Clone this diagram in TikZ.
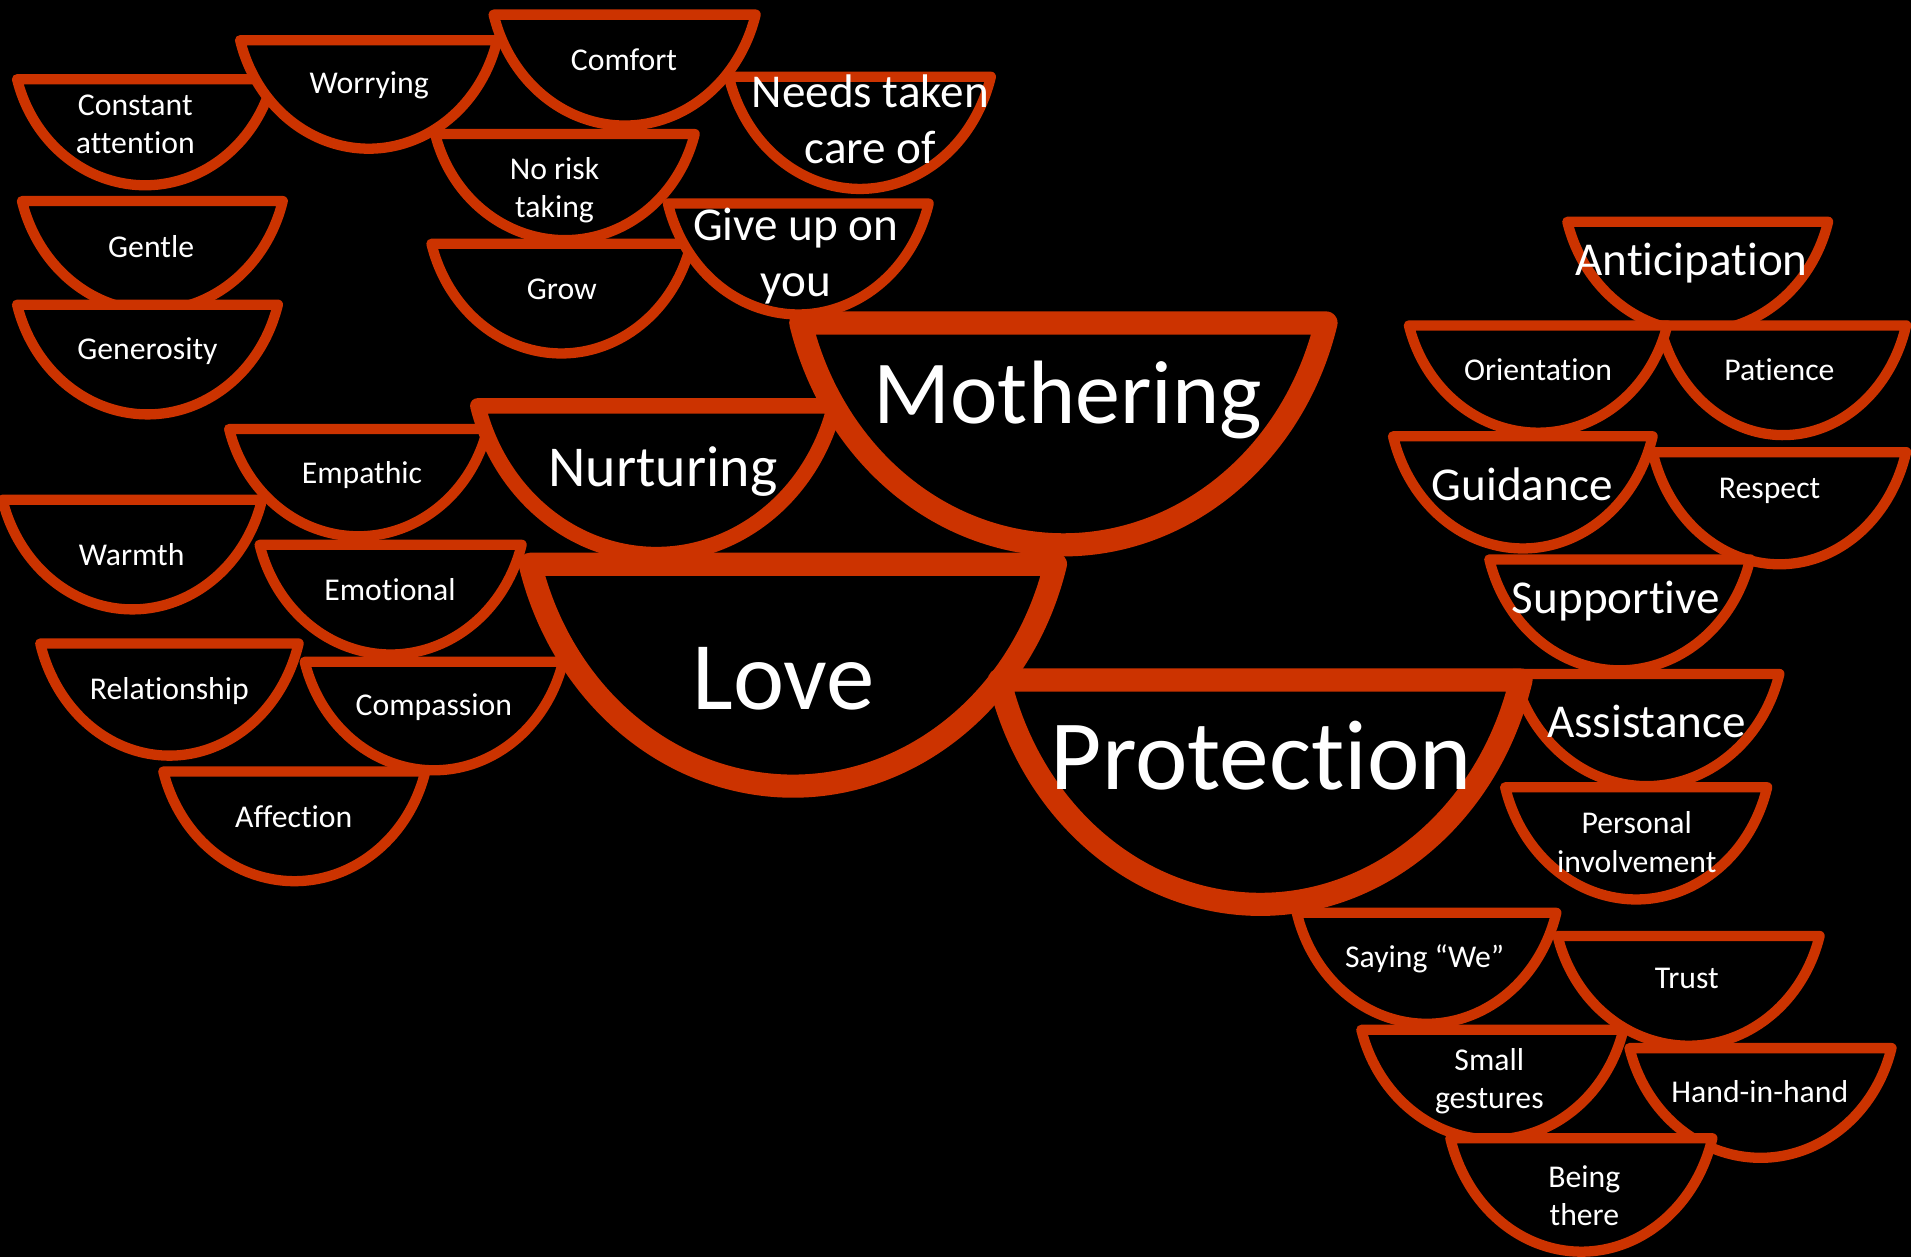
\documentclass[tikz,border=0pt]{standalone}
\usepackage{fontspec}
\setmainfont{Carlito}[Ligatures=NoCommon]
\definecolor{bowlred}{HTML}{CC3300}

% a bowl: left x, right x, top y, bottom y, line width
\newcommand{\bowl}[5]{%
  \pgfmathsetmacro{\bxr}{(#2-#1)/2/cos(15)}%
  \pgfmathsetmacro{\byr}{(#4-#3)/(1-sin(15))}%
  \draw[bowl, line width=#5] (#1,#3) -- (#2,#3)
    arc[start angle=15, end angle=165, x radius=\bxr, y radius=\byr] -- cycle;
}

\tikzset{
  bowl/.style={draw=bowlred, fill=black, line join=round},
  lbl/.style={text=white, align=center, inner sep=0pt},
  smalltxt/.style={lbl, font=\fontsize{7.4}{8.9}\selectfont},
  midtxt/.style={lbl, font=\fontsize{11}{13.2}\selectfont}
}

\begin{document}
\begin{tikzpicture}[x=0.01cm, y=-0.01cm]
    % Background
    \fill[black] (0,0) rectangle (1568,1031);
    \useasboundingbox (0,0) rectangle (1568,1031);
    % Upper left bowls
    \bowl{14}{224}{65}{152}{2.4pt}
    \bowl{197}{408}{33}{122}{2.4pt}
    \bowl{405}{620}{12}{103}{2.4pt}
    \bowl{598}{813}{63}{155}{2.4pt}
    \bowl{357}{570}{110}{197}{2.4pt}
    \bowl{354}{567}{200}{290}{2.4pt}
    \bowl{548}{762}{167}{258}{2.4pt}
    \bowl{18}{232}{165}{255}{2.4pt}
    \bowl{14}{228}{250}{340}{2.4pt}
    % Left bowls
    \bowl{188}{400}{352}{440}{2.4pt}
    \bowl{2}{215}{410}{500}{2.4pt}
    \bowl{213}{428}{447}{537}{2.4pt}
    \bowl{33}{245}{528}{620}{2.4pt}
    \bowl{250}{462}{543}{632}{2.4pt}
    \bowl{134}{349}{633}{723}{2.4pt}
    % Right bowls
    \bowl{1286}{1500}{182}{272}{2.4pt}
    \bowl{1362}{1564}{267}{357}{2.4pt}
    \bowl{1156}{1368}{267}{355}{2.4pt}
    \bowl{1356}{1564}{371}{463}{2.4pt}
    \bowl{1143}{1356}{358}{450}{2.4pt}
    \bowl{1222}{1436}{459}{550}{2.4pt}
    \bowl{1242}{1460}{553}{645}{2.4pt}
    \bowl{1235}{1450}{646}{738}{2.4pt}
    \bowl{1278}{1493}{768}{858}{2.4pt}
    \bowl{1064}{1277}{749}{840}{2.4pt}
    \bowl{1337}{1552}{860}{950}{2.4pt}
    \bowl{1117}{1332}{845}{935}{2.4pt}
    \bowl{1190}{1405}{934}{1027}{2.4pt}
    % Main bowls
    \bowl{657}{1088}{265}{447}{5.4pt}
    \bowl{392}{685}{333}{455}{3.6pt}
    \bowl{435}{866}{463}{645}{5.4pt}
    \bowl{820}{1248}{558}{742}{5.4pt}
    % Labels
    \node[smalltxt] (constant) at (111,102) {Constant\\attention};
    \node[smalltxt] (worrying) at (303,70) {Worrying};
    \node[smalltxt] (comfort) at (512,49) {Comfort};
    \node[midtxt] (needs) at (714,98) {Needs taken\\care of};
    \node[smalltxt] (norisk) at (455,156) {No risk\\taking};
    \node[smalltxt] (grow) at (461,237) {Grow};
    \node[midtxt] (giveup) at (653,210) {Give up on\\you};
    \node[smalltxt] (gentle) at (124,202) {Gentle};
    \node[smalltxt] (generosity) at (121,288) {Generosity};
    \node[smalltxt] (empathic) at (297,390) {Empathic};
    \node[smalltxt] (warmth) at (108,455) {Warmth};
    \node[smalltxt] (emotional) at (320,484) {Emotional};
    \node[smalltxt] (relationship) at (139,567) {Relationship};
    \node[smalltxt] (compassion) at (356,580) {Compassion};
    \node[smalltxt] (affection) at (241,670) {Affection};
    \node[midtxt] (anticipation) at (1388,216) {Anticipation};
    \node[smalltxt] (orientation) at (1262,303) {Orientation};
    \node[smalltxt] (patience) at (1460,303) {Patience};
    \node[midtxt] (guidance) at (1249,397) {Guidance};
    \node[smalltxt] (respect) at (1452,403) {Respect};
    \node[midtxt] (supportive) at (1326,493) {Supportive};
    \node[midtxt] (assistance) at (1351,592) {Assistance};
    \node[smalltxt] (personal) at (1343,691) {Personal\\involvement};
    \node[smalltxt] (saying) at (1169,787) {Saying “We”};
    \node[smalltxt] (trust) at (1384,803) {Trust};
    \node[smalltxt] (small) at (1222,887) {Small\\gestures};
    \node[smalltxt] (hand) at (1444,896) {Hand-in-hand};
    \node[smalltxt] (being) at (1300,981) {Being\\there};
    \node[lbl, font=\fontsize{21}{25}\selectfont] (mothering) at (876,328) {Mothering};
    \node[lbl, font=\fontsize{13.5}{16}\selectfont] (nurturing) at (544,387) {Nurturing};
    \node[lbl, font=\fontsize{22.6}{27}\selectfont] (love) at (643,557) {Love};
    \node[lbl, font=\fontsize{23.2}{28}\selectfont] (protection) at (1035,620) {Protection};
\end{tikzpicture}
\end{document}
